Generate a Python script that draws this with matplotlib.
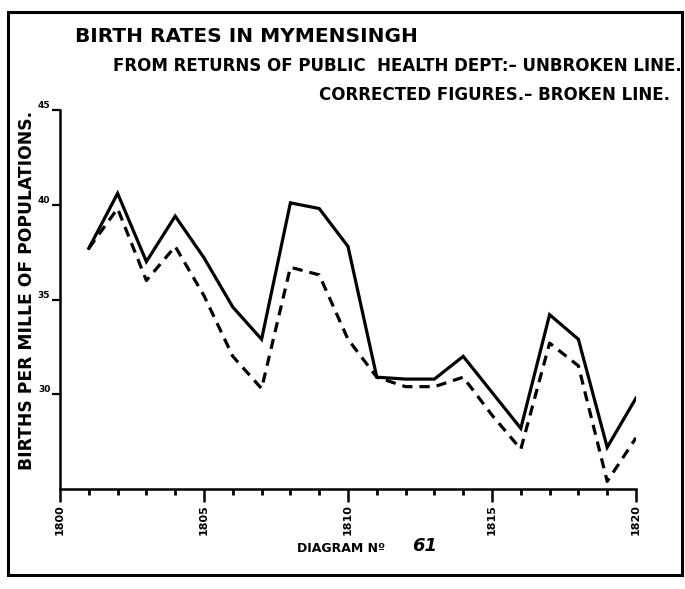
import numpy as np
import matplotlib
matplotlib.use("Agg")
import matplotlib.pyplot as plt
from matplotlib.patches import Rectangle
from matplotlib.ticker import MultipleLocator

# birth rates per mille, Mymensingh
years = list(range(1801, 1821))
public_health = [37.7, 40.6, 37.0, 39.4, 37.2, 34.6, 32.9, 40.1, 39.8, 37.8,
                 30.9, 30.8, 30.8, 32.0, 30.1, 28.2, 34.2, 32.9, 27.2, 29.8]
corrected = [37.7, 39.8, 36.0, 37.8, 35.2, 32.0, 30.3, 36.7, 36.3, 32.9,
             30.9, 30.4, 30.4, 30.9, 28.9, 27.1, 32.7, 31.5, 25.4, 27.7]
year_ticks = [1800, 1805, 1810, 1815, 1820]
rate_ticks = [30, 35, 40, 45]

W, H = 685, 589
plt.rcParams['font.family'] = ['DejaVu Sans']
plt.rcParams['font.weight'] = 'bold'

fig = plt.figure(figsize=(W / 100, H / 100), dpi=100)
fig.patch.set_facecolor('white')

# outer frame
fig.patches.append(Rectangle((8 / W, 1 - 575 / H), 674 / W, 563 / H,
                             transform=fig.transFigure, fill=False,
                             lw=2.2, ec='black'))

ax = fig.add_axes([60 / W, 100 / H, 576 / W, 379 / H])
ax.plot(years, public_health, color='black', lw=2.3, solid_joinstyle='miter')
ax.plot(years, corrected, color='black', lw=2.3, linestyle=(0, (3.2, 2.2)))

ax.set_xlim(1800, 1820)
ax.set_ylim(25, 45)
for side in ('top', 'right'):
    ax.spines[side].set_visible(False)
for side in ('left', 'bottom'):
    ax.spines[side].set_linewidth(1.8)

ax.set_xticks(year_ticks, [str(y) for y in year_ticks], rotation=90)
ax.xaxis.set_minor_locator(MultipleLocator(1))
ax.tick_params(axis='x', which='major', direction='out', length=9, width=1.8,
               labelsize=8, pad=2)
ax.tick_params(axis='x', which='minor', direction='out', length=4, width=2)
ax.set_yticks(rate_ticks, [str(r) for r in rate_ticks])
ax.tick_params(axis='y', which='major', direction='out', length=6, width=1.6,
               labelsize=6.5, pad=1)
for lbl in ax.get_yticklabels():
    lbl.set_va('bottom')

fig.text(75 / W, 1 - 37 / H, 'BIRTH RATES IN MYMENSINGH', fontsize=14.5,
         va='center', ha='left')
fig.text(682 / W, 1 - 66 / H,
         'FROM RETURNS OF PUBLIC  HEALTH DEPT:\u2013 UNBROKEN LINE.',
         fontsize=12, va='center', ha='right')
fig.text(670 / W, 1 - 95 / H, 'CORRECTED FIGURES.\u2013 BROKEN LINE.',
         fontsize=12, va='center', ha='right')
fig.text(27 / W, 1 - 290 / H, 'BIRTHS PER MILLE OF POPULATIONS.',
         fontsize=12.3, rotation=90, va='center', ha='center')
fig.text(297 / W, 1 - 548 / H, 'DIAGRAM N\u00ba', fontsize=9,
         va='center', ha='left')
fig.text(412 / W, 1 - 546 / H, '61', fontsize=13, style='italic',
         va='center', ha='left')

fig.savefig('out.png', dpi=100)
